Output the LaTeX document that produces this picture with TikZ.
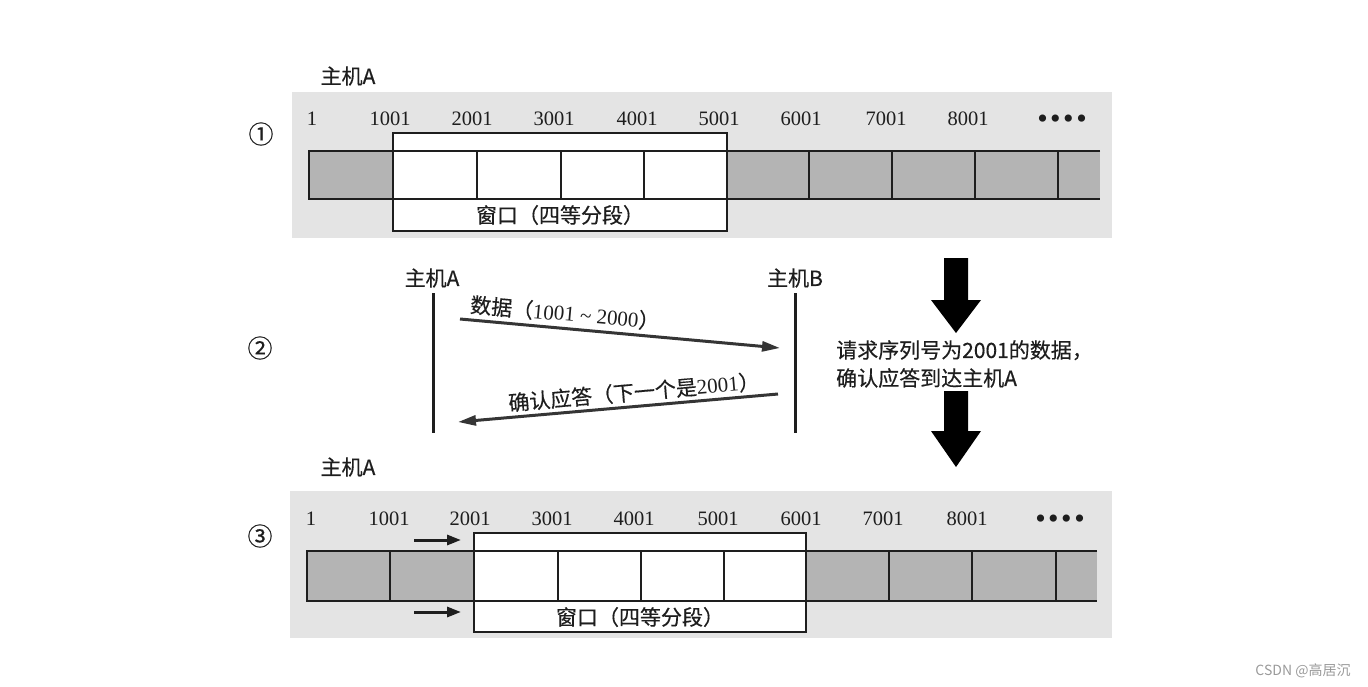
\documentclass[tikz,border=0pt]{standalone}
\usepackage{fontspec}
\setmainfont{Liberation Serif}
\newfontfamily\cjk{Noto Sans CJK SC}[FakeBold=0.4]
\newfontfamily\cjkplain{Noto Sans CJK SC}
\usetikzlibrary{arrows.meta}
\definecolor{panelbg}{HTML}{E4E4E4}
\definecolor{cellbg}{HTML}{B4B4B4}
\definecolor{ink}{HTML}{1E1E1E}
\definecolor{wm}{HTML}{9A9A9A}
\tikzset{
  cjkt/.style={inner sep=0pt, text=ink, font={\cjk\fontsize{21}{25}\selectfont}},
  circt/.style={inner sep=0pt, text=ink, font={\cjk\fontsize{25}{28}\selectfont}},
  numt/.style={inner sep=0pt, anchor=base, text=ink, font={\fontsize{20.5}{24}\selectfont}},
  dott/.style={inner sep=0pt, anchor=base, text=ink, font={\fontsize{30}{30}\selectfont}},
  barline/.style={draw=ink, line width=2pt},
  winbox/.style={draw=ink, fill=white, line width=2pt},
  lifeline/.style={draw=ink, line width=3pt},
  msg/.style={draw=ink!90, line width=3pt, -{Triangle[length=18pt,width=10pt]}},
  slidearrow/.style={draw=ink, line width=3pt, -{Triangle[length=14pt,width=10pt]}},
  bigarrow/.style={fill=black},
}
\newcommand\fourdots{•\kern2.5pt•\kern2.5pt•\kern2.5pt•}
\begin{document}
\begin{tikzpicture}[x=1pt,y=-1pt]
\useasboundingbox (0,0) rectangle (1368,686);

% ================= Panel 1 =================
\fill[panelbg] (292,92) rectangle (1112,238);
\fill[cellbg] (309,151) rectangle (1100,199);
\node[winbox, minimum width=334pt, minimum height=98pt, inner sep=0pt] (win1) at (560,182) {};
\draw[barline] (1100,151) -- (309,151) -- (309,199) -- (1100,199);
\foreach \x in {477,561,644,809,892,975,1058} \draw[barline] (\x,151) -- (\x,199);
\draw[barline] (393,199) -- (727,199);
\draw[barline] (393,151) -- (727,151);
\node[cjkt] (wl1) at (560,215) {窗口（四等分段）};
\node[cjkt] (hA1) at (348,76) {主机A};
\node[circt] (c1) at (261,134) {①};
\node[numt] (n1a) at (312,125) {1};
\node[numt] (n1b) at (390,125) {1001};
\node[numt] (n1c) at (472,125) {2001};
\node[numt] (n1d) at (554,125) {3001};
\node[numt] (n1e) at (637,125) {4001};
\node[numt] (n1f) at (719,125) {5001};
\node[numt] (n1g) at (801,125) {6001};
\node[numt] (n1h) at (886,125) {7001};
\node[numt] (n1i) at (968,125) {8001};
\node[dott] (n1j) at (1062,128) {\fourdots};

% ================= Panel 2 =================
\node[cjkt] (hA2) at (432,278) {主机A};
\node[cjkt] (hB2) at (795,278) {主机B};
\coordinate (la1) at (433,293);
\coordinate (la2) at (433,433);
\coordinate (lb1) at (795,293);
\coordinate (lb2) at (795,433);
\draw[lifeline] (la1) -- (la2);
\draw[lifeline] (lb1) -- (lb2);
\coordinate (m1s) at (460,319);
\coordinate (m1e) at (780,348);
\coordinate (m2s) at (778,394);
\coordinate (m2e) at (458,422);
\draw[msg] (m1s) -- (m1e);
\draw[msg] (m2s) -- (m2e);
\node[cjkt, rotate=-5.2] (ml1) at (565,313) {数据（{\rmfamily\fontsize{21}{24}\selectfont 1001 \textasciitilde{} 2000}）};
\node[cjkt, rotate=5] (ml2) at (634,392) {确认应答（下一个是{\rmfamily\fontsize{21}{24}\selectfont 2001}）};
\node[circt] (c2) at (260,348) {②};
\node[cjkt, anchor=west, align=left, font={\cjk\fontsize{21}{28}\selectfont}] (note) at (836,364) {请求序列号为2001的数据，\\确认应答到达主机A};
% big down arrows
\fill[bigarrow] (944,258) -- (968,258) -- (968,300) -- (981,300) -- (956,333) -- (931,300) -- (944,300) -- cycle;
\fill[bigarrow] (944,391) -- (968,391) -- (968,431) -- (981,431) -- (956,467) -- (931,431) -- (944,431) -- cycle;

% ================= Panel 3 =================
\fill[panelbg] (290,491) rectangle (1112,638);
\fill[cellbg] (307,551) rectangle (1097,601);
\node[winbox, minimum width=332pt, minimum height=99pt, inner sep=0pt] (win3) at (640,582.5) {};
\draw[barline] (1097,551) -- (307,551) -- (307,601) -- (1097,601);
\foreach \x in {390,558,641,724,889,972,1056} \draw[barline] (\x,551) -- (\x,601);
\draw[barline] (474,551) -- (806,551);
\draw[barline] (474,601) -- (806,601);
\node[cjkt] (wl3) at (640,617) {窗口（四等分段）};
\node[cjkt] (hA3) at (348,467) {主机A};
\node[circt] (c3) at (260,536) {③};
\node[numt] (n3a) at (311,525) {1};
\node[numt] (n3b) at (389,525) {1001};
\node[numt] (n3c) at (470,525) {2001};
\node[numt] (n3d) at (552,525) {3001};
\node[numt] (n3e) at (634,525) {4001};
\node[numt] (n3f) at (718,525) {5001};
\node[numt] (n3g) at (801,525) {6001};
\node[numt] (n3h) at (883,525) {7001};
\node[numt] (n3i) at (967,525) {8001};
\node[dott] (n3j) at (1060,528) {\fourdots};
\coordinate (s1s) at (414,540);
\coordinate (s1e) at (461,540);
\coordinate (s2s) at (414,612);
\coordinate (s2e) at (461,612);
\draw[slidearrow] (s1s) -- (s1e);
\draw[slidearrow] (s2s) -- (s2e);

% watermark
\node[inner sep=0pt, text=wm, font={\cjkplain\fontsize{14}{16}\selectfont}] (wmk) at (1303,671) {CSDN @高居沉};
\end{tikzpicture}
\end{document}
